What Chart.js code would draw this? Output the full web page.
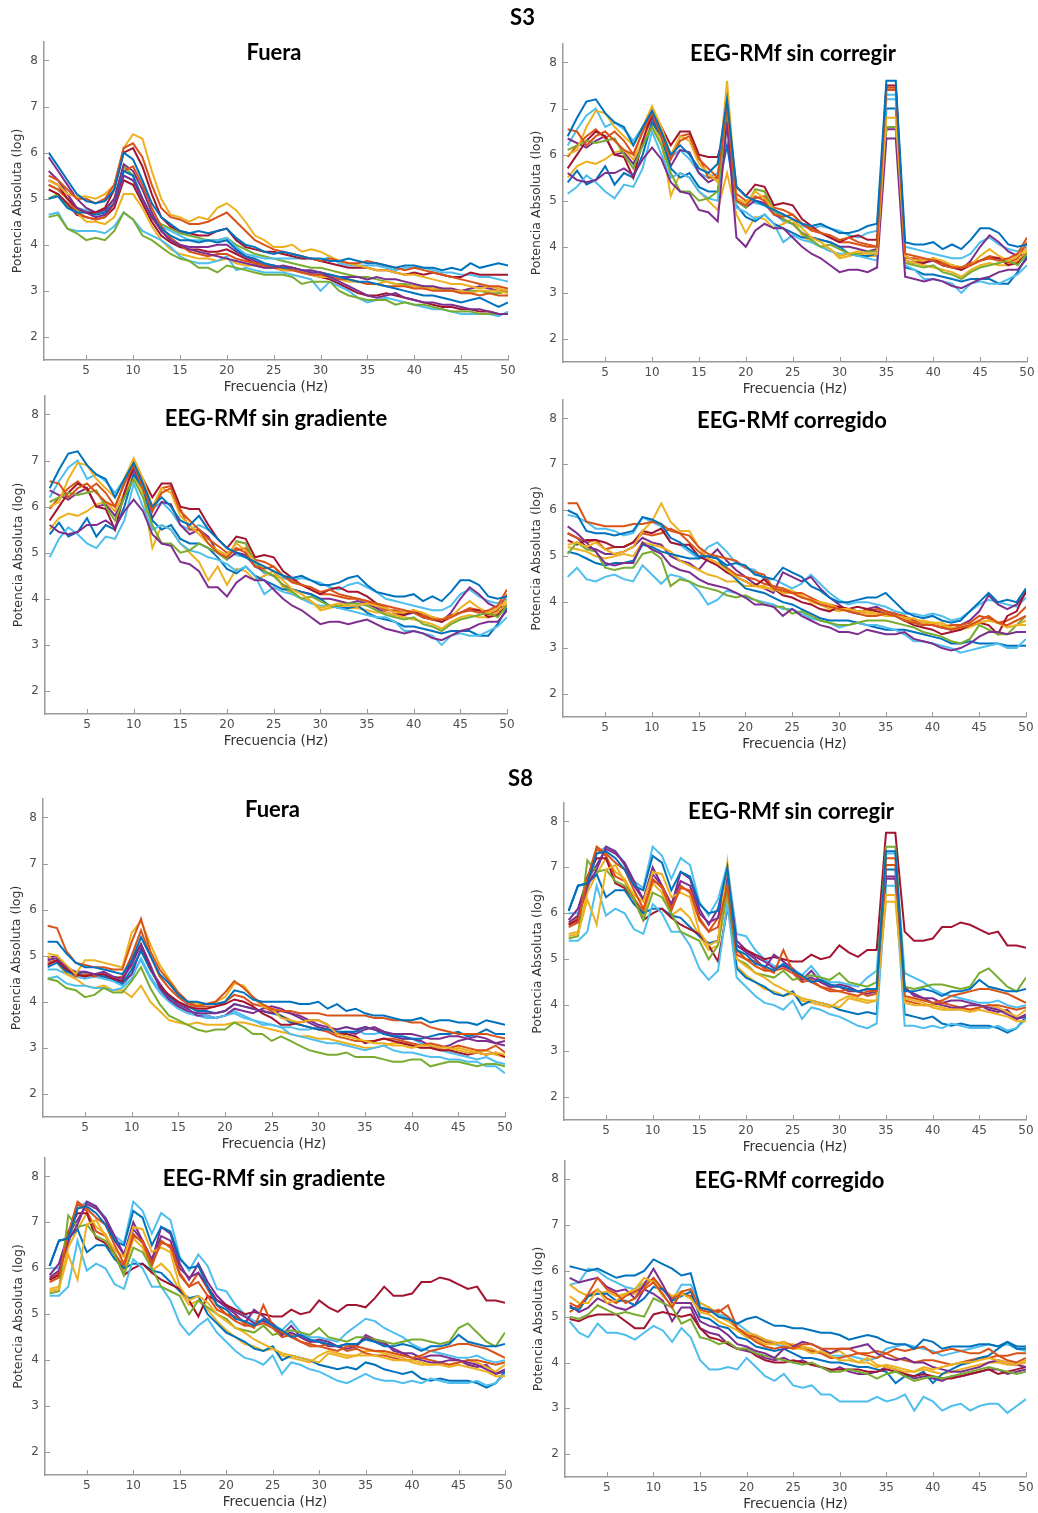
<!DOCTYPE html>
<html><head><meta charset="utf-8">
<script src="https://cdn.jsdelivr.net/npm/chart.js@4.4.1/dist/chart.umd.min.js"></script>
<style>
html,body{margin:0;padding:0;background:#fff;overflow:hidden;width:1038px;height:1513px;}
#page{position:relative;width:1038px;height:1513px;}
canvas{position:absolute;}
.ttl{position:absolute;font-family:Lato,'Open Sans',sans-serif;font-weight:700;font-size:22px;line-height:22px;white-space:nowrap;color:#000;transform:translateX(-50%);z-index:5;}
</style></head><body><div id="page"></div>
<script>
// ---------- data ----------
const FREQS = [1,2,3,4,5,6,7,8,9,10,11,12,13,14,15,16,17,18,19,20,21,22,23,24,25,26,27,28,29,30,31,32,33,34,35,36,37,38,39,40,41,42,43,44,45,46,47,48,49,50];
const X_TICKS = [5,10,15,20,25,30,35,40,45,50];
const Y_TICKS = [2,3,4,5,6,7,8];
const SUBJECTS = ['S3','S8'];
const PANEL_TITLES = ['Fuera','EEG-RMf sin corregir','EEG-RMf sin gradiente','EEG-RMf corregido'];
const X_LABEL = 'Frecuencia (Hz)';
const Y_LABEL = 'Potencia Absoluta (log)';

const S3_FUERA = [
[6.0,5.7,5.4,5.1,4.95,4.9,4.95,5.2,6.0,5.85, 5.4,4.9,4.6,4.45,4.3,4.25,4.3,4.25,4.3,4.35, 4.15,4.0,3.95,3.85,3.8,3.85,3.8,3.75,3.7,3.7, 3.65,3.65,3.7,3.65,3.6,3.6,3.55,3.5,3.55,3.55, 3.5,3.5,3.45,3.5,3.45,3.6,3.5,3.55,3.6,3.55],
[5.5,5.4,5.2,5.0,5.0,4.9,5.0,5.3,6.1,6.2, 5.9,5.3,4.8,4.6,4.55,4.45,4.45,4.5,4.6,4.7, 4.5,4.3,4.1,4.0,3.9,3.85,3.8,3.75,3.7,3.65, 3.7,3.65,3.6,3.6,3.65,3.6,3.55,3.5,3.45,3.5, 3.45,3.4,3.35,3.3,3.25,3.2,3.15,3.1,3.1,3.05],
[5.4,5.3,5.1,5.05,5.05,5.0,5.1,5.3,6.1,6.4, 6.3,5.6,5.0,4.65,4.6,4.5,4.6,4.55,4.8,4.9, 4.75,4.5,4.2,4.1,3.95,3.95,4.0,3.85,3.9,3.85, 3.75,3.65,3.6,3.55,3.5,3.45,3.45,3.4,3.35,3.35, 3.3,3.25,3.2,3.15,3.15,3.1,3.05,3.1,3.05,3.0],
[5.6,5.4,5.1,4.8,4.7,4.6,4.65,4.9,5.5,5.4, 5.0,4.6,4.3,4.1,4.0,3.9,3.85,3.8,3.75,3.7, 3.65,3.6,3.55,3.5,3.5,3.55,3.5,3.45,3.4,3.4, 3.3,3.2,3.1,3.0,2.9,2.85,2.9,2.95,2.85,2.8, 2.75,2.75,2.7,2.7,2.65,2.6,2.6,2.55,2.5,2.5],
[4.6,4.65,4.35,4.25,4.1,4.15,4.1,4.3,4.7,4.55, 4.2,4.1,3.95,3.8,3.7,3.65,3.5,3.5,3.4,3.55, 3.5,3.45,3.4,3.35,3.35,3.35,3.3,3.15,3.2,3.2, 3.2,3.0,2.9,2.85,2.8,2.8,2.8,2.7,2.75,2.7, 2.7,2.65,2.6,2.55,2.55,2.55,2.5,2.5,2.5,2.5],
[4.65,4.7,4.35,4.3,4.3,4.3,4.25,4.4,4.7,4.55, 4.3,4.2,4.1,3.95,3.75,3.65,3.6,3.6,3.65,3.75, 3.45,3.5,3.45,3.4,3.4,3.4,3.35,3.3,3.25,3.0, 3.2,3.1,3.0,2.85,2.75,2.8,2.85,2.8,2.75,2.7, 2.65,2.6,2.6,2.55,2.5,2.5,2.5,2.5,2.45,2.55],
[5.4,5.3,5.0,4.8,4.7,4.7,4.8,5.2,6.0,6.1, 5.7,5.1,4.6,4.4,4.3,4.25,4.2,4.2,4.3,4.35, 4.1,3.95,3.9,3.85,3.85,3.8,3.75,3.7,3.7,3.65, 3.6,3.55,3.5,3.5,3.5,3.45,3.45,3.4,3.35,3.4, 3.35,3.4,3.35,3.3,3.3,3.4,3.35,3.35,3.35,3.35],
[5.0,5.05,4.8,4.7,4.7,4.65,4.7,4.9,5.6,5.5, 5.0,4.6,4.35,4.2,4.1,4.1,4.05,4.1,4.05,4.1, 3.9,3.75,3.7,3.6,3.55,3.5,3.5,3.45,3.4,3.4, 3.35,3.3,3.25,3.2,3.2,3.15,3.1,3.05,3.0,2.95, 2.9,2.9,2.85,2.8,2.75,2.8,2.85,2.75,2.65,2.75],
[5.3,5.2,5.0,4.7,4.6,4.55,4.6,4.9,5.6,5.7, 5.3,4.8,4.4,4.15,4.0,3.85,3.8,3.75,3.8,3.8, 3.7,3.65,3.6,3.55,3.5,3.5,3.45,3.4,3.35,3.35, 3.3,3.25,3.25,3.2,3.15,3.15,3.1,3.1,3.1,3.05, 3.05,3.0,3.0,3.0,2.95,2.95,2.9,2.95,2.9,2.9],
[5.3,5.2,5.0,4.7,4.5,4.5,4.45,4.6,5.1,5.1, 4.8,4.4,4.1,3.9,3.8,3.75,3.7,3.7,3.65,3.7, 3.6,3.55,3.55,3.5,3.5,3.45,3.45,3.4,3.35,3.3, 3.3,3.25,3.2,3.2,3.15,3.15,3.2,3.15,3.1,3.1, 3.05,3.05,3.0,3.0,3.0,2.95,3.0,3.0,3.0,2.95],
[5.9,5.6,5.3,5.0,4.8,4.7,4.75,5.0,5.75,5.6, 5.2,4.7,4.3,4.1,4.0,3.95,3.95,3.95,4.0,4.0, 3.85,3.75,3.65,3.55,3.55,3.5,3.5,3.45,3.45,3.4, 3.35,3.3,3.3,3.3,3.25,3.3,3.25,3.25,3.2,3.15, 3.1,3.1,3.05,3.05,3.0,3.05,3.1,3.05,3.0,3.0],
[5.3,5.2,5.0,4.8,4.75,4.7,4.7,4.9,5.5,5.4, 5.0,4.6,4.4,4.3,4.2,4.1,4.1,4.1,4.1,4.15, 3.95,3.8,3.75,3.7,3.7,3.7,3.7,3.7,3.7,3.65, 3.75,3.6,3.55,3.55,3.55,3.55,3.5,3.45,3.5,3.5, 3.5,3.45,3.4,3.4,3.35,3.35,3.3,3.3,3.25,3.2],
[5.2,5.1,4.9,4.65,4.6,4.55,4.6,4.8,5.4,5.3, 4.9,4.5,4.2,4.05,3.95,3.9,3.9,3.85,3.85,3.9, 3.8,3.7,3.6,3.55,3.5,3.45,3.45,3.4,3.35,3.3, 3.25,3.15,3.05,2.95,2.9,2.9,2.95,2.9,2.85,2.8, 2.75,2.7,2.65,2.65,2.6,2.6,2.55,2.55,2.5,2.5],
[5.0,5.1,4.85,4.75,4.7,4.7,4.75,5.0,5.7,5.5, 5.0,4.6,4.45,4.35,4.25,4.2,4.15,4.1,4.1,4.15, 4.0,3.9,3.8,3.75,3.7,3.65,3.6,3.55,3.5,3.5, 3.45,3.4,3.35,3.3,3.3,3.25,3.2,3.15,3.15,3.1, 3.1,3.05,3.05,3.0,3.0,3.0,3.0,2.95,2.95,3.0]
];

const S3_SINCORR = [
[6.4,6.8,7.15,7.2,6.9,6.7,6.6,6.2,6.6,6.95, 6.5,6.0,6.2,6.0,5.7,5.6,5.8,7.2,5.3,5.1, 5.0,4.9,4.8,4.7,4.6,4.5,4.45,4.5,4.4,4.3, 4.3,4.35,4.45,4.5,7.6,7.6,4.1,4.05,4.05,4.1, 3.95,4.05,3.95,4.15,4.4,4.4,4.3,4.05,4.0,4.05],
[6.55,6.5,6.2,6.4,6.5,6.3,6.1,6.0,6.5,6.9, 6.4,5.9,6.3,6.4,5.9,5.7,5.5,7.0,5.0,4.9, 5.1,5.0,4.7,4.65,4.7,4.5,4.4,4.3,4.25,4.15, 4.2,4.1,4.05,4.0,7.4,7.4,3.85,3.8,3.75,3.7, 3.6,3.55,3.55,3.6,3.7,3.75,3.7,3.75,3.85,4.2],
[6.0,6.1,6.6,6.95,6.9,6.6,6.4,6.2,6.6,7.05, 6.6,6.0,6.4,6.3,5.8,5.6,5.4,7.6,5.05,4.95, 5.2,5.05,4.8,4.7,4.6,4.4,4.2,4.1,3.95,3.8, 3.85,3.9,3.85,3.85,6.8,6.8,3.8,3.7,3.7,3.75, 3.7,3.6,3.55,3.6,3.8,3.95,3.8,3.7,3.8,3.95],
[5.6,5.45,5.4,5.45,5.6,5.6,5.7,5.55,5.9,6.15, 5.9,5.4,5.2,5.15,4.8,4.75,4.55,6.7,4.2,4.0, 4.35,4.5,4.4,4.4,4.2,4.0,3.85,3.75,3.6,3.45, 3.5,3.5,3.45,3.55,6.35,6.35,3.35,3.3,3.25,3.3, 3.25,3.15,3.1,3.2,3.3,3.35,3.45,3.5,3.5,3.75],
[6.1,6.2,6.3,6.25,6.3,6.35,6.0,5.7,6.2,6.6, 6.2,5.6,5.2,5.2,5.0,5.05,5.2,6.9,5.0,4.85, 5.25,5.2,4.8,4.6,4.5,4.3,4.15,4.0,4.05,3.95, 3.85,3.85,3.9,3.9,6.6,6.6,3.65,3.6,3.55,3.6, 3.45,3.4,3.3,3.45,3.55,3.6,3.65,3.7,3.6,3.85],
[5.15,5.3,5.55,5.4,5.2,5.05,5.35,5.3,5.7,6.5, 6.0,5.5,5.6,5.5,5.2,5.05,5.0,7.3,4.85,4.75, 4.6,4.7,4.5,4.1,4.25,4.15,4.1,4.0,3.9,3.85, 3.85,3.8,3.75,3.7,7.2,7.2,3.6,3.5,3.3,3.3, 3.25,3.2,3.0,3.2,3.25,3.2,3.2,3.3,3.4,3.6],
[5.7,6.0,6.3,6.5,6.4,6.0,5.95,5.5,6.3,6.9, 6.6,6.2,6.5,6.5,6.0,5.95,5.95,6.65,5.3,5.1, 5.35,5.3,4.9,4.95,4.9,4.6,4.45,4.3,4.2,4.1, 4.2,4.25,4.15,4.15,7.5,7.5,3.8,3.7,3.65,3.75, 3.6,3.55,3.5,3.6,3.7,3.75,3.75,3.6,3.65,3.85],
[5.4,5.65,5.35,5.45,5.75,5.35,5.6,5.5,6.0,6.7, 6.4,5.7,5.5,5.6,5.3,5.2,5.2,6.2,4.9,4.65, 4.55,4.7,4.5,4.4,4.3,4.2,4.2,4.15,4.1,4.0, 3.85,3.8,3.8,3.85,7.0,7.0,3.55,3.5,3.4,3.4, 3.35,3.3,3.25,3.3,3.3,3.3,3.2,3.2,3.45,3.8],
[5.95,6.2,6.4,6.55,6.35,6.5,6.3,6.0,6.5,6.95, 6.5,5.9,6.4,6.45,5.95,5.5,5.5,6.9,5.15,5.0, 5.05,5.1,4.85,4.8,4.7,4.5,4.35,4.3,4.2,4.1, 4.1,4.05,4.0,4.0,7.45,7.45,3.75,3.75,3.7,3.75, 3.65,3.6,3.55,3.65,3.7,3.8,3.75,3.65,3.75,4.1],
[5.5,5.75,5.85,5.8,5.9,6.05,6.1,5.9,6.3,6.7, 6.3,5.1,5.6,5.5,5.2,5.0,4.8,5.6,4.7,4.3, 4.65,4.6,4.4,4.5,4.6,4.25,4.1,4.0,3.95,3.75, 3.8,3.85,3.8,3.8,6.6,6.6,3.7,3.65,3.6,3.55, 3.5,3.45,3.35,3.5,3.6,3.65,3.6,3.6,3.7,3.9],
[6.35,6.25,6.15,6.3,6.4,6.0,6.05,5.8,6.2,6.8, 6.35,5.75,6.1,6.05,5.6,5.4,5.5,6.7,5.0,4.85, 5.0,4.95,4.7,4.6,4.5,4.3,4.2,4.15,4.1,4.0, 4.0,3.95,3.9,3.95,6.55,6.55,3.7,3.65,3.65,3.7, 3.6,3.6,3.5,3.7,4.0,4.25,4.1,3.9,3.8,3.85],
[6.2,6.55,6.85,7.0,6.6,6.7,6.55,6.3,6.6,6.9, 6.45,5.95,6.1,5.9,5.6,5.5,5.6,7.1,5.3,5.1, 4.95,4.9,4.75,4.55,4.5,4.45,4.4,4.45,4.4,4.35, 4.25,4.2,4.3,4.35,7.3,7.3,4.0,3.95,3.9,3.85, 3.8,3.75,3.75,3.85,4.1,4.2,4.05,3.95,3.9,4.0]
];

const S3_SINGRAD = [
[6.4,6.8,7.15,7.2,6.9,6.7,6.6,6.2,6.6,6.95, 6.5,6.0,6.2,6.0,5.7,5.6,5.8,5.5,5.3,5.1, 5.0,4.9,4.8,4.7,4.6,4.5,4.45,4.5,4.4,4.3, 4.3,4.35,4.45,4.5,4.3,4.15,4.1,4.05,4.05,4.1, 3.95,4.05,3.95,4.15,4.4,4.4,4.3,4.05,4.0,4.05],
[6.55,6.5,6.2,6.4,6.5,6.3,6.1,6.0,6.5,6.9, 6.4,5.9,6.3,6.4,5.9,5.7,5.5,5.2,5.0,4.9, 5.1,5.0,4.7,4.65,4.7,4.5,4.4,4.3,4.25,4.15, 4.2,4.1,4.05,4.0,3.95,3.9,3.85,3.8,3.75,3.7, 3.6,3.55,3.55,3.6,3.7,3.75,3.7,3.75,3.85,4.2],
[6.0,6.1,6.6,6.95,6.9,6.6,6.4,6.2,6.6,7.05, 6.6,6.0,6.4,6.3,5.8,5.6,5.4,5.2,5.05,4.95, 5.2,5.05,4.8,4.7,4.6,4.4,4.2,4.1,3.95,3.8, 3.85,3.9,3.85,3.85,3.9,3.85,3.8,3.7,3.7,3.75, 3.7,3.6,3.55,3.6,3.8,3.95,3.8,3.7,3.8,3.95],
[5.6,5.45,5.4,5.45,5.6,5.6,5.7,5.55,5.9,6.15, 5.9,5.4,5.2,5.15,4.8,4.75,4.6,4.25,4.25,4.05, 4.35,4.5,4.4,4.4,4.2,4.0,3.85,3.75,3.6,3.45, 3.5,3.5,3.45,3.5,3.55,3.45,3.35,3.3,3.25,3.3, 3.25,3.15,3.1,3.2,3.3,3.35,3.45,3.5,3.5,3.75],
[6.1,6.2,6.3,6.25,6.3,6.35,6.0,5.7,6.2,6.6, 6.2,5.6,5.2,5.2,5.0,5.05,5.2,5.1,5.0,4.85, 5.25,5.2,4.8,4.6,4.5,4.3,4.15,4.0,4.05,3.95, 3.85,3.85,3.9,3.9,3.85,3.75,3.65,3.6,3.55,3.6, 3.45,3.4,3.3,3.45,3.55,3.6,3.65,3.7,3.6,3.85],
[4.9,5.3,5.55,5.4,5.2,5.1,5.35,5.3,5.7,6.5, 6.0,5.5,5.6,5.5,5.2,5.05,5.0,4.9,4.85,4.75, 4.6,4.7,4.5,4.1,4.25,4.15,4.1,4.0,3.9,3.85, 3.85,3.8,3.75,3.7,3.65,3.6,3.6,3.5,3.3,3.3, 3.25,3.2,3.0,3.2,3.25,3.2,3.2,3.3,3.4,3.6],
[5.7,6.0,6.3,6.5,6.4,6.0,5.95,5.5,6.3,6.9, 6.6,6.2,6.5,6.5,6.0,5.95,5.95,5.6,5.3,5.1, 5.35,5.3,4.9,4.95,4.9,4.6,4.45,4.3,4.2,4.1, 4.2,4.25,4.15,4.15,4.05,3.9,3.8,3.7,3.65,3.75, 3.6,3.55,3.5,3.6,3.7,3.75,3.75,3.6,3.65,3.85],
[5.4,5.65,5.35,5.45,5.75,5.35,5.6,5.5,6.0,6.7, 6.4,5.7,5.5,5.6,5.3,5.2,5.2,5.1,4.9,4.65, 4.55,4.7,4.5,4.4,4.3,4.2,4.2,4.15,4.1,4.0, 3.85,3.8,3.8,3.85,3.7,3.6,3.55,3.5,3.4,3.4, 3.35,3.3,3.25,3.3,3.3,3.3,3.2,3.2,3.45,3.8],
[5.95,6.2,6.4,6.55,6.35,6.5,6.3,6.0,6.5,6.95, 6.5,5.9,6.4,6.45,5.95,5.5,5.5,5.3,5.15,5.0, 5.05,5.1,4.85,4.8,4.7,4.5,4.35,4.3,4.2,4.1, 4.1,4.05,4.0,4.0,3.95,3.85,3.75,3.75,3.7,3.75, 3.65,3.6,3.55,3.65,3.7,3.8,3.75,3.65,3.75,4.1],
[5.5,5.75,5.85,5.8,5.9,6.05,6.1,5.9,6.3,6.7, 6.3,5.1,5.6,5.5,5.2,5.0,4.8,4.4,4.7,4.3, 4.65,4.6,4.4,4.5,4.6,4.25,4.1,4.0,3.95,3.75, 3.8,3.85,3.8,3.8,3.75,3.7,3.7,3.65,3.6,3.55, 3.5,3.45,3.35,3.5,3.6,3.65,3.6,3.6,3.7,3.9],
[6.35,6.25,6.15,6.3,6.4,6.0,6.05,5.8,6.2,6.8, 6.35,5.75,6.1,6.05,5.6,5.4,5.5,5.35,5.0,4.85, 5.0,4.95,4.7,4.6,4.5,4.3,4.2,4.15,4.1,4.0, 4.0,3.95,3.9,3.95,3.9,3.8,3.7,3.65,3.65,3.7, 3.6,3.6,3.5,3.7,4.0,4.25,4.1,3.9,3.8,3.85],
[6.2,6.55,6.85,7.0,6.6,6.7,6.55,6.3,6.6,6.9, 6.45,5.95,6.1,5.9,5.6,5.5,5.6,5.5,5.3,5.1, 4.95,4.9,4.75,4.55,4.5,4.45,4.4,4.45,4.4,4.35, 4.25,4.2,4.3,4.35,4.25,4.15,4.0,3.95,3.9,3.85, 3.8,3.75,3.75,3.85,4.1,4.2,4.05,3.95,3.9,4.0]
];

const S3_CORR = [
[6.0,5.9,5.55,5.5,5.5,5.45,5.5,5.55,5.85,5.8, 5.7,5.4,5.3,5.15,5.0,5.0,4.95,4.8,4.85,4.8, 4.6,4.55,4.5,4.75,4.65,4.55,4.35,4.25,4.1,4.0, 4.0,4.05,4.1,4.1,4.2,4.0,3.8,3.7,3.65,3.7, 3.6,3.55,3.6,3.8,4.0,4.2,4.0,4.05,4.0,4.3],
[6.15,6.15,5.75,5.7,5.65,5.65,5.65,5.7,5.7,5.75, 5.7,5.55,5.5,5.45,5.2,5.05,5.0,4.95,4.9,4.75, 4.65,4.6,4.3,4.25,4.2,4.1,4.05,3.95,3.9,3.85, 3.8,3.75,3.7,3.7,3.75,3.7,3.6,3.55,3.5,3.5, 3.45,3.4,3.45,3.5,3.6,3.7,3.55,3.5,3.6,3.7],
[5.25,5.3,5.2,5.3,5.15,5.05,5.1,5.2,5.55,5.75, 6.15,5.75,5.55,5.55,5.2,4.95,4.85,4.7,4.55,4.45, 4.35,4.3,4.3,4.2,4.2,4.1,4.05,4.0,3.95,3.85, 3.85,3.8,3.8,3.75,3.75,3.7,3.65,3.65,3.55,3.55, 3.5,3.45,3.45,3.5,3.55,3.6,3.55,3.45,3.5,3.5],
[5.65,5.5,5.3,5.1,4.85,4.8,4.85,4.85,5.3,5.15, 5.05,4.8,4.7,4.65,4.5,4.4,4.35,4.3,4.2,4.1, 3.95,3.95,3.9,3.7,3.85,3.7,3.6,3.5,3.45,3.35, 3.35,3.3,3.4,3.35,3.3,3.3,3.35,3.2,3.15,3.1, 3.0,2.95,3.0,3.1,3.25,3.35,3.35,3.3,3.35,3.35],
[5.05,5.3,5.15,5.1,4.75,4.7,4.75,4.75,5.05,5.1, 4.95,4.35,4.5,4.45,4.35,4.3,4.25,4.15,4.1,4.15, 4.05,3.95,3.9,3.9,3.75,3.8,3.7,3.6,3.55,3.5, 3.5,3.55,3.6,3.6,3.6,3.55,3.5,3.45,3.35,3.3, 3.25,3.15,3.1,3.2,3.5,3.4,3.3,3.3,3.5,3.7],
[4.55,4.75,4.5,4.45,4.55,4.6,4.5,4.45,4.8,4.6, 4.4,4.6,4.55,4.45,4.25,3.95,4.05,4.25,4.2,4.1, 4.05,4.0,3.95,3.85,3.85,3.75,3.65,3.6,3.55,3.45, 3.5,3.55,3.5,3.5,3.45,3.4,3.3,3.15,3.15,3.1, 3.05,3.0,2.9,2.95,3.0,3.05,3.1,3.0,3.0,3.2],
[5.35,5.25,5.35,5.35,5.3,5.2,5.2,5.3,5.55,5.5, 5.6,5.3,5.25,5.25,5.0,4.9,4.8,4.65,4.55,4.45, 4.35,4.5,4.3,4.15,4.1,4.0,3.95,3.85,3.8,3.9, 3.85,3.9,3.85,3.8,3.75,3.7,3.6,3.5,3.45,3.4, 3.3,3.35,3.4,3.5,3.55,3.5,3.3,3.7,3.8,4.25],
[5.1,5.05,4.95,4.85,4.8,4.85,4.85,4.9,5.25,5.2, 5.1,5.05,5.0,4.95,4.95,5.0,4.95,4.7,4.5,4.3, 4.25,4.2,4.1,4.0,3.95,3.85,3.75,3.65,3.6,3.6, 3.6,3.55,3.5,3.45,3.4,3.4,3.4,3.35,3.3,3.25, 3.2,3.1,3.1,3.15,3.1,3.1,3.1,3.05,3.05,3.05],
[5.5,5.4,5.3,5.35,5.15,5.2,5.2,5.3,5.5,5.45, 5.5,5.6,5.5,5.3,5.1,4.95,4.85,4.75,4.6,4.55, 4.5,4.4,4.35,4.3,4.2,4.2,4.1,4.0,3.95,3.9, 3.85,3.8,3.8,3.85,3.8,3.75,3.7,3.6,3.55,3.5, 3.45,3.5,3.5,3.55,3.7,3.65,3.55,3.6,3.7,3.9],
[5.2,5.15,5.1,5.0,4.95,5.0,5.05,5.0,5.3,5.25, 5.2,5.1,4.9,4.8,4.7,4.6,4.55,4.45,4.45,4.35, 4.35,4.35,4.25,4.3,4.25,4.15,4.0,3.95,3.85,3.8, 3.85,3.8,3.75,3.75,3.7,3.7,3.65,3.6,3.6,3.55, 3.55,3.45,3.4,3.45,3.55,3.6,3.55,3.45,3.5,3.6],
[5.5,5.4,5.2,5.15,5.05,5.05,5.1,5.2,5.4,5.3, 5.25,5.0,4.9,4.85,4.7,4.95,5.15,4.9,4.7,4.55, 4.4,4.3,4.2,4.65,4.55,4.45,4.55,4.3,4.1,3.95, 3.8,3.75,3.85,3.9,3.8,3.75,3.6,3.55,3.5,3.5, 3.45,3.4,3.5,3.6,3.8,4.15,3.95,3.85,3.95,4.2],
[5.9,5.85,5.75,5.6,5.6,5.55,5.45,5.5,5.85,5.75, 5.65,5.3,5.25,5.1,4.95,5.2,5.3,5.1,4.85,4.75, 4.7,4.5,4.5,4.4,4.3,4.4,4.6,4.4,4.2,4.05, 3.95,4.0,4.0,3.95,3.9,3.8,3.75,3.75,3.7,3.75, 3.7,3.6,3.65,3.8,3.95,4.05,4.0,3.95,3.9,4.1]
];

const S8_FUERA = [
[5.3,5.3,5.05,4.85,4.75,4.75,4.7,4.65,4.6,4.9, 5.4,5.0,4.6,4.4,4.15,4.0,4.0,3.95,3.95,4.0, 4.25,4.2,4.05,4.0,4.0,4.0,4.0,3.95,3.95,4.0, 3.85,3.95,3.8,3.85,3.75,3.7,3.7,3.65,3.6,3.6, 3.65,3.55,3.6,3.6,3.55,3.55,3.5,3.6,3.55,3.5],
[5.65,5.6,5.1,4.85,4.8,4.75,4.75,4.7,4.7,5.3, 5.8,5.1,4.7,4.45,4.2,4.0,3.9,3.95,4.0,4.2, 4.45,4.3,4.1,3.95,3.85,3.8,3.8,3.75,3.75,3.75, 3.7,3.7,3.7,3.7,3.7,3.65,3.65,3.6,3.6,3.55, 3.55,3.45,3.4,3.35,3.3,3.3,3.3,3.3,3.25,3.2],
[5.05,5.0,4.8,4.6,4.9,4.9,4.85,4.8,4.75,5.5, 5.75,5.25,4.8,4.5,4.2,4.0,3.95,3.95,4.0,4.1, 4.4,4.35,4.1,3.9,3.85,3.65,3.6,3.55,3.6,3.6, 3.5,3.3,3.25,3.2,3.15,3.1,3.1,3.05,3.05,3.0, 3.05,3.05,3.0,3.0,2.95,2.9,2.9,2.85,2.9,2.85],
[4.9,4.95,4.75,4.65,4.65,4.6,4.65,4.55,4.5,4.8, 5.25,4.8,4.3,4.05,3.9,3.8,3.75,3.75,3.75,3.8, 3.95,3.9,3.85,3.8,3.75,3.8,3.75,3.7,3.6,3.5, 3.45,3.4,3.45,3.4,3.45,3.4,3.35,3.3,3.3,3.3, 3.25,3.2,3.2,3.25,3.25,3.2,3.15,3.15,3.1,3.05],
[4.5,4.45,4.3,4.25,4.1,4.15,4.3,4.2,4.2,4.45, 4.75,4.3,3.95,3.7,3.6,3.5,3.4,3.35,3.4,3.4, 3.55,3.45,3.3,3.3,3.15,3.25,3.15,3.05,2.95,2.9, 2.85,2.85,2.9,2.8,2.8,2.8,2.75,2.7,2.7,2.75, 2.75,2.6,2.65,2.7,2.7,2.65,2.6,2.65,2.65,2.6],
[4.5,4.55,4.4,4.35,4.35,4.3,4.3,4.25,4.3,4.5, 4.95,4.55,4.25,4.05,3.9,3.8,3.75,3.7,3.65,3.7, 3.75,3.65,3.6,3.5,3.5,3.45,3.3,3.25,3.2,3.15, 3.1,3.1,3.05,3.0,2.95,3.0,3.05,2.95,2.9,2.9, 2.85,2.8,2.8,2.75,2.75,2.7,2.7,2.6,2.6,2.45],
[4.8,4.9,4.7,4.6,4.55,4.6,4.6,4.5,4.45,4.9, 5.25,4.75,4.35,4.15,4.0,3.9,3.85,3.85,3.9,3.95, 4.05,4.0,3.9,3.75,3.65,3.5,3.5,3.55,3.6,3.6, 3.5,3.3,3.3,3.25,3.1,3.15,3.2,3.15,3.1,3.05, 3.0,3.0,2.95,2.95,2.9,2.85,2.9,2.85,2.9,2.8],
[4.75,4.85,4.65,4.6,4.65,4.6,4.55,4.5,4.4,4.7, 5.1,4.7,4.35,4.1,4.0,3.9,3.8,3.8,3.75,3.8, 3.95,3.9,3.85,3.8,3.75,3.7,3.55,3.5,3.45,3.4, 3.4,3.35,3.35,3.35,3.45,3.4,3.3,3.25,3.25,3.2, 3.2,3.25,3.3,3.3,3.35,3.25,3.3,3.4,3.3,3.3],
[4.85,4.9,4.7,4.55,4.6,4.55,4.6,4.5,4.55,5.0, 5.55,5.0,4.55,4.3,4.1,3.95,3.9,3.9,3.9,4.0, 4.15,4.1,3.95,3.9,3.8,3.7,3.6,3.5,3.45,3.4, 3.35,3.25,3.2,3.15,3.15,3.15,3.2,3.2,3.15,3.1, 3.05,3.1,3.05,3.0,3.05,3.0,2.95,2.95,3.05,2.9],
[5.0,4.85,4.6,4.5,4.35,4.3,4.35,4.25,4.25,4.1, 4.35,4.0,3.8,3.6,3.55,3.5,3.55,3.5,3.5,3.5, 3.55,3.55,3.5,3.45,3.4,3.35,3.3,3.25,3.25,3.2, 3.2,3.15,3.1,3.05,3.0,3.0,3.05,3.1,3.1,3.05, 3.0,3.0,2.95,2.95,3.0,2.95,2.9,2.95,2.85,2.8],
[4.95,5.0,4.75,4.6,4.55,4.6,4.55,4.5,4.4,4.6, 5.15,4.7,4.4,4.1,3.95,3.85,3.7,3.7,3.65,3.7, 3.85,3.8,3.75,3.85,3.9,3.85,3.75,3.65,3.55,3.45, 3.4,3.3,3.35,3.3,3.4,3.45,3.35,3.25,3.2,3.2, 3.15,3.05,3.0,3.05,3.15,3.2,3.25,3.2,3.1,3.15],
[4.7,4.7,4.6,4.55,4.5,4.55,4.5,4.45,4.35,4.6, 4.9,4.5,4.2,4.0,3.85,3.75,3.7,3.65,3.65,3.7, 3.8,3.7,3.6,3.55,3.5,3.45,3.45,3.4,3.4,3.45, 3.4,3.4,3.45,3.4,3.3,3.3,3.35,3.3,3.2,3.2, 3.1,3.05,2.95,2.9,2.85,2.8,2.75,2.8,2.7,2.65]
];

const S8_SINCORR = [
[6.05,6.6,6.65,7.3,7.35,7.2,6.95,6.6,6.5,7.25, 7.1,6.5,6.9,6.8,6.2,6.0,6.05,7.0,5.2,5.1, 4.9,4.85,4.75,4.9,4.75,4.65,4.5,4.55,4.45,4.4, 4.35,4.3,4.35,4.35,7.35,7.35,4.3,4.3,4.35,4.3, 4.2,4.3,4.3,4.35,4.55,4.4,4.35,4.3,4.3,4.35],
[5.7,5.8,6.75,7.45,7.3,7.1,6.95,6.5,6.1,6.7, 6.6,6.1,6.55,6.5,5.9,5.6,5.7,6.6,5.1,5.0, 4.95,4.8,4.7,5.2,4.75,4.6,4.5,4.4,4.35,4.3, 4.25,4.2,4.3,4.3,7.05,7.05,4.2,4.15,4.1,4.05, 4.1,4.2,4.25,4.3,4.35,4.35,4.3,4.25,4.15,4.05],
[5.5,5.55,6.3,5.75,6.95,7.05,6.7,6.4,6.25,6.9, 6.85,6.35,6.45,6.35,5.6,5.3,5.4,7.1,5.0,4.85, 4.7,4.6,4.45,4.35,4.25,4.15,4.1,4.05,4.0,3.95, 4.15,4.1,4.05,4.1,6.4,6.4,4.05,4.0,4.0,4.0, 3.95,3.9,3.9,3.85,3.9,3.85,3.8,3.75,3.65,3.65],
[5.8,5.95,6.6,6.95,7.45,7.35,7.05,6.6,6.3,6.85, 6.6,6.2,6.7,6.6,6.0,5.8,5.9,6.8,5.3,5.15, 5.0,4.8,5.1,4.95,4.8,4.55,4.6,4.5,4.4,4.45, 4.4,4.3,4.25,4.3,6.8,6.8,4.35,4.25,4.15,4.05, 4.0,3.95,3.95,4.0,4.0,3.95,3.9,3.8,3.7,3.8],
[5.45,5.5,7.15,6.9,6.95,6.7,6.6,6.3,5.85,6.45, 6.35,6.0,5.6,5.5,5.4,5.0,5.3,6.5,5.0,4.9, 4.7,4.65,4.6,4.75,4.55,4.6,4.65,4.6,4.55,4.7, 4.5,4.45,4.4,4.5,7.45,7.45,4.4,4.35,4.4,4.45, 4.45,4.4,4.35,4.4,4.7,4.8,4.6,4.4,4.3,4.6],
[5.4,5.4,5.6,6.6,5.95,6.1,6.0,5.65,5.55,6.2, 6.0,5.6,5.6,5.3,4.8,4.55,4.75,6.2,4.6,4.4, 4.2,4.05,4.0,3.9,4.1,3.7,3.95,3.9,3.8,3.75, 3.65,3.55,3.5,3.6,6.6,6.6,3.55,3.55,3.5,3.55, 3.5,3.6,3.55,3.5,3.5,3.5,3.55,3.45,3.5,3.7],
[5.75,5.85,6.8,7.2,7.2,6.65,6.55,6.3,5.85,6.0, 6.1,5.9,5.75,5.65,5.55,5.3,4.95,6.1,5.3,5.2, 5.1,5.0,5.05,5.0,4.95,4.95,5.1,5.0,5.05,5.3, 5.15,5.05,5.2,5.2,7.75,7.75,5.6,5.4,5.4,5.45, 5.7,5.7,5.8,5.75,5.65,5.55,5.6,5.3,5.3,5.25],
[6.05,6.6,6.65,6.85,6.35,6.5,6.5,6.2,6.0,6.1, 6.1,5.95,5.9,5.7,5.5,5.35,5.4,6.9,4.8,4.6, 4.5,4.4,4.25,4.2,4.3,4.0,4.1,4.05,4.0,3.9, 3.85,3.8,3.85,3.8,6.95,6.95,3.8,3.75,3.7,3.75, 3.6,3.55,3.6,3.55,3.55,3.55,3.5,3.4,3.5,3.75],
[5.75,5.9,6.55,7.4,7.25,6.8,6.7,6.3,6.05,6.75, 6.55,6.05,6.6,6.45,5.85,5.6,5.9,6.7,5.2,5.0, 4.85,4.75,4.75,4.8,4.7,4.5,4.55,4.4,4.3,4.3, 4.35,4.3,4.2,4.25,7.2,7.2,4.1,4.05,4.0,4.0, 4.05,4.0,3.95,3.9,3.95,4.0,4.0,3.95,3.9,3.95],
[5.55,5.6,6.45,6.85,7.2,6.9,6.75,6.35,5.95,6.65, 6.45,5.95,6.1,5.9,5.5,5.2,5.3,6.4,4.85,4.65, 4.5,4.35,4.3,4.2,4.25,4.1,4.05,4.0,3.95,4.1, 4.2,4.15,4.1,4.1,6.25,6.25,4.15,4.1,4.05,3.95, 3.9,3.9,3.95,3.9,3.95,4.0,3.95,3.85,3.75,3.9],
[5.85,6.1,6.75,7.05,7.4,7.3,7.1,6.7,6.3,7.0, 6.6,6.15,6.9,6.75,6.1,5.75,6.1,6.9,5.4,5.2, 5.05,4.95,4.8,4.85,4.75,4.55,4.75,4.5,4.4,4.4, 4.3,4.3,4.35,4.3,6.75,6.75,4.4,4.2,4.15,4.15, 4.05,4.1,4.1,4.05,4.0,3.9,3.85,3.9,3.7,3.75],
[6.0,6.0,6.5,7.3,7.45,7.35,7.1,6.7,6.55,7.45, 7.25,6.75,7.2,7.05,6.25,5.95,6.3,7.05,5.55,5.5, 5.2,5.0,4.85,4.85,4.8,4.65,4.85,4.6,4.5,4.5, 4.45,4.4,4.6,4.75,7.3,7.3,4.7,4.6,4.5,4.35, 4.25,4.2,4.15,4.1,4.05,4.05,4.1,4.0,3.95,4.0]
];

const S8_SINGRAD = [
[6.05,6.6,6.65,7.3,7.35,7.2,6.95,6.6,6.5,7.25, 7.1,6.5,6.9,6.8,6.2,6.0,6.05,5.6,5.2,5.1, 4.9,4.85,4.75,4.9,4.75,4.65,4.5,4.55,4.45,4.4, 4.35,4.3,4.35,4.35,4.45,4.4,4.3,4.3,4.35,4.3, 4.2,4.3,4.3,4.35,4.55,4.4,4.35,4.3,4.3,4.35],
[5.7,5.8,6.75,7.45,7.3,7.1,6.95,6.5,6.1,6.7, 6.6,6.1,6.55,6.5,5.9,5.6,5.7,5.4,5.1,5.0, 4.95,4.8,4.7,5.2,4.75,4.6,4.5,4.4,4.35,4.3, 4.25,4.2,4.3,4.3,4.25,4.2,4.2,4.15,4.1,4.05, 4.1,4.2,4.25,4.3,4.35,4.35,4.3,4.25,4.15,4.05],
[5.5,5.55,6.3,5.75,6.95,7.05,6.7,6.4,6.25,6.9, 6.85,6.35,6.45,6.35,5.6,5.3,5.4,5.25,5.0,4.85, 4.7,4.6,4.45,4.35,4.25,4.15,4.1,4.05,4.0,3.95, 4.15,4.1,4.05,4.1,4.1,4.1,4.05,4.0,4.0,4.0, 3.95,3.9,3.9,3.85,3.9,3.85,3.8,3.75,3.65,3.65],
[5.8,5.95,6.6,6.95,7.45,7.35,7.05,6.6,6.3,6.85, 6.6,6.2,6.7,6.6,6.0,5.8,5.9,5.6,5.3,5.15, 5.0,4.8,5.1,4.95,4.8,4.55,4.6,4.5,4.4,4.45, 4.4,4.3,4.25,4.3,4.5,4.4,4.35,4.25,4.15,4.05, 4.0,3.95,3.95,4.0,4.0,3.95,3.9,3.8,3.7,3.8],
[5.45,5.5,7.15,6.9,6.95,6.7,6.6,6.3,5.85,6.45, 6.35,6.0,5.6,5.5,5.4,5.0,5.3,5.15,5.0,4.9, 4.7,4.65,4.6,4.75,4.55,4.6,4.65,4.6,4.55,4.7, 4.5,4.45,4.4,4.5,4.5,4.45,4.4,4.35,4.4,4.45, 4.45,4.4,4.35,4.4,4.7,4.8,4.6,4.4,4.3,4.6],
[5.4,5.4,5.6,6.6,5.95,6.1,6.0,5.65,5.55,6.2, 6.0,5.6,5.6,5.3,4.8,4.55,4.75,4.9,4.6,4.4, 4.2,4.05,4.0,3.9,4.1,3.7,3.95,3.9,3.8,3.75, 3.65,3.55,3.5,3.6,3.7,3.6,3.55,3.55,3.5,3.55, 3.5,3.6,3.55,3.5,3.5,3.5,3.55,3.45,3.5,3.7],
[5.75,5.85,6.8,7.2,7.2,6.65,6.55,6.3,5.85,6.0, 6.1,5.9,5.75,5.65,5.55,5.3,4.95,5.4,5.3,5.2, 5.1,5.0,5.05,5.0,4.95,4.95,5.1,5.0,5.05,5.3, 5.15,5.05,5.2,5.2,5.15,5.35,5.6,5.4,5.4,5.45, 5.7,5.7,5.8,5.75,5.65,5.55,5.6,5.3,5.3,5.25],
[6.05,6.6,6.65,6.85,6.35,6.5,6.5,6.2,6.0,6.1, 6.1,5.95,5.9,5.7,5.5,5.35,5.4,5.0,4.8,4.6, 4.5,4.4,4.25,4.2,4.3,4.0,4.1,4.05,4.0,3.9, 3.85,3.8,3.85,3.8,3.95,3.9,3.8,3.75,3.7,3.75, 3.6,3.55,3.6,3.55,3.55,3.55,3.5,3.4,3.5,3.75],
[5.75,5.9,6.55,7.4,7.25,6.8,6.7,6.3,6.05,6.75, 6.55,6.05,6.6,6.45,5.85,5.6,5.9,5.55,5.2,5.0, 4.85,4.75,4.75,4.8,4.7,4.5,4.55,4.4,4.3,4.3, 4.35,4.3,4.2,4.25,4.15,4.1,4.1,4.05,4.0,4.0, 4.05,4.0,3.95,3.9,3.95,4.0,4.0,3.95,3.9,3.95],
[5.55,5.6,6.45,6.85,7.2,6.9,6.75,6.35,5.95,6.65, 6.45,5.95,6.1,5.9,5.5,5.2,5.3,5.1,4.85,4.65, 4.5,4.35,4.3,4.2,4.25,4.1,4.05,4.0,3.95,4.1, 4.2,4.15,4.1,4.1,4.2,4.2,4.15,4.1,4.05,3.95, 3.9,3.9,3.95,3.9,3.95,4.0,3.95,3.85,3.75,3.9],
[5.85,6.1,6.75,7.05,7.4,7.3,7.1,6.7,6.3,7.0, 6.6,6.15,6.9,6.75,6.1,5.75,6.1,5.7,5.4,5.2, 5.05,4.95,4.8,4.85,4.75,4.55,4.75,4.5,4.4,4.4, 4.3,4.3,4.35,4.3,4.55,4.45,4.4,4.2,4.15,4.15, 4.05,4.1,4.1,4.05,4.0,3.9,3.85,3.9,3.7,3.75],
[6.0,6.0,6.5,7.3,7.45,7.35,7.1,6.7,6.55,7.45, 7.25,6.75,7.2,7.05,6.25,5.95,6.3,6.05,5.55,5.5, 5.2,5.0,4.85,4.85,4.8,4.65,4.85,4.6,4.5,4.5, 4.45,4.4,4.6,4.75,4.9,4.85,4.7,4.6,4.5,4.35, 4.25,4.2,4.15,4.1,4.05,4.05,4.1,4.0,3.95,4.0]
];

const S8_CORR = [
[6.1,6.05,6.0,6.05,5.95,5.85,5.9,5.9,6.0,6.25, 6.15,6.05,5.9,5.95,5.2,5.15,5.0,4.95,4.85,4.95, 5.0,4.9,4.8,4.8,4.75,4.75,4.7,4.65,4.65,4.6, 4.5,4.55,4.6,4.55,4.45,4.4,4.4,4.3,4.5,4.45, 4.3,4.35,4.35,4.35,4.4,4.4,4.35,4.45,4.35,4.35],
[5.3,5.2,5.5,5.85,5.6,5.5,5.3,5.4,5.6,5.75, 5.5,5.2,5.55,5.6,5.2,5.15,5.1,5.25,4.75,4.6, 4.45,4.35,4.3,4.35,4.3,4.4,4.4,4.3,4.3,4.3, 4.3,4.2,4.15,4.1,4.2,4.3,4.25,4.3,4.35,4.2, 4.25,4.3,4.25,4.2,4.2,4.3,4.15,4.15,4.2,4.2],
[5.45,5.3,5.3,5.6,5.3,5.35,5.5,5.6,5.85,5.75, 5.45,5.25,5.5,5.4,5.1,5.05,4.9,4.8,4.7,4.55, 4.5,4.4,4.4,4.45,4.3,4.3,4.2,4.25,4.15,4.05, 4.05,4.0,4.1,3.95,3.9,3.85,3.8,3.8,3.9,3.85, 3.9,3.95,4.0,4.0,4.05,4.1,4.05,4.0,3.95,4.05],
[5.85,5.75,5.8,5.85,5.65,5.55,5.6,5.4,5.7,6.05, 5.7,5.3,5.3,5.3,4.9,4.8,4.75,4.6,4.4,4.35, 4.25,4.2,4.1,4.3,4.35,4.45,4.4,4.3,4.2,4.3, 4.3,4.35,4.4,4.2,4.1,4.05,4.1,4.0,4.0,3.9, 3.85,3.8,3.8,3.85,3.9,4.0,4.05,4.0,3.95,3.9],
[5.0,4.95,5.05,5.25,5.15,5.05,5.1,5.05,5.0,5.4, 5.3,5.2,4.85,4.95,4.55,4.5,4.4,4.45,4.3,4.3, 4.2,4.15,4.1,4.05,4.0,3.95,4.0,3.9,3.8,3.8, 3.85,3.8,3.75,3.65,3.75,3.8,3.7,3.6,3.65,3.7, 3.65,3.7,3.75,3.8,3.85,3.9,3.85,3.8,3.75,3.8],
[4.9,4.65,4.55,4.85,4.65,4.65,4.6,4.5,4.65,4.8, 4.7,4.45,4.75,4.55,4.05,3.85,3.85,3.9,3.85,4.1, 3.9,3.7,3.6,3.75,3.5,3.45,3.5,3.3,3.3,3.15, 3.15,3.15,3.15,3.25,3.15,3.2,3.3,2.95,3.25,3.15, 2.95,3.05,3.1,2.95,3.05,3.1,3.1,2.9,3.05,3.2],
[4.95,4.9,5.0,5.05,5.05,5.05,4.9,4.75,4.75,5.05, 5.1,5.05,5.0,5.05,4.75,4.55,4.5,4.4,4.3,4.3, 4.15,4.05,4.0,4.0,4.05,4.0,3.95,3.9,3.85,3.85, 3.85,3.85,3.8,3.8,3.85,3.8,3.75,3.7,3.75,3.7, 3.65,3.65,3.7,3.75,3.8,3.85,3.75,3.8,3.85,3.9],
[5.2,5.15,5.45,5.5,5.5,5.35,5.35,5.25,5.4,5.65, 5.6,5.35,5.45,5.55,5.0,4.95,4.8,4.75,4.55,4.5, 4.35,4.3,4.25,4.3,4.2,4.1,4.1,4.05,4.0,4.0, 3.95,3.9,3.9,3.85,3.8,3.55,3.7,3.7,3.8,3.55, 3.75,3.85,3.95,4.0,4.1,4.15,4.3,4.45,4.3,4.3],
[5.1,5.25,5.45,5.6,5.4,5.3,5.45,5.55,5.65,5.85, 5.6,5.4,5.5,5.45,5.15,5.1,5.15,5.0,4.75,4.6, 4.55,4.45,4.4,4.45,4.35,4.3,4.25,4.2,4.1,4.1, 4.15,4.2,4.2,4.25,4.2,4.1,4.05,4.0,4.05,4.05, 4.0,3.95,4.0,4.05,4.1,4.1,4.15,4.05,4.0,4.1],
[5.7,5.55,5.45,5.5,5.55,5.45,5.5,5.5,5.75,5.8, 5.6,5.45,5.55,5.4,5.3,5.2,5.0,4.9,4.75,4.65, 4.6,4.5,4.45,4.4,4.4,4.35,4.3,4.2,4.2,4.25, 4.1,4.0,4.0,3.9,3.95,3.9,3.85,3.8,3.85,3.8, 3.75,3.8,3.85,3.9,3.95,4.0,4.0,3.95,3.95,4.0],
[5.25,5.1,5.2,5.4,5.3,5.2,5.15,5.25,5.6,5.5, 5.35,4.9,5.2,5.2,4.75,4.65,4.6,4.4,4.3,4.25, 4.2,4.1,4.05,4.1,4.0,4.05,3.95,3.9,3.8,3.9, 3.8,3.75,3.75,3.8,3.9,3.85,3.75,3.65,3.7,3.65, 3.6,3.7,3.7,3.75,3.8,3.85,3.85,3.75,3.8,3.85],
[5.7,5.75,6.05,6.0,5.85,5.75,5.65,5.6,5.75,5.8, 5.6,5.35,5.7,5.7,5.3,5.2,5.05,5.0,4.85,4.7, 4.55,4.5,4.4,4.35,4.35,4.3,4.25,4.2,4.15,4.15, 4.15,4.1,4.05,4.1,4.3,4.35,4.4,4.35,4.3,4.25, 4.15,4.2,4.25,4.3,4.35,4.4,4.35,4.4,4.3,4.25]
];

// ---------- style / layout ----------
const PALETTE = ['#0072BD','#D95319','#EDB120','#7E2F8E','#77AC30','#4DBEEE','#A2142F','#0072BD','#D95319','#EDB120','#7E2F8E','#4DBEEE','#A2142F','#77AC30'];
const AXIS_C = '#9a9a9a', TICK_C = '#4d4d4d', LABEL_C = '#333333';
const YW = 34, XH = 36, PT = 16, PR = 16;
const PANELS = [
  {data:S3_FUERA,   t:0, L:44,  T:42,   R:508,  B:360,  tx:274,   tb:60.7},
  {data:S3_SINCORR, t:1, L:563, T:44,   R:1027, B:362,  tx:793,   tb:61.7},
  {data:S3_SINGRAD, t:2, L:45,  T:396,  R:507,  B:714,  tx:276,   tb:426.7},
  {data:S3_CORR,    t:3, L:563, T:400,  R:1026, B:717,  tx:792,   tb:428.3},
  {data:S8_FUERA,   t:0, L:43,  T:799,  R:505,  B:1117, tx:272.5, tb:817.3},
  {data:S8_SINCORR, t:1, L:564, T:803,  R:1026, B:1120, tx:791,   tb:819.3},
  {data:S8_SINGRAD, t:2, L:45,  T:1158, R:505,  B:1475, tx:274,   tb:1186.7},
  {data:S8_CORR,    t:3, L:565, T:1161, R:1026, B:1477, tx:789.5, tb:1188.3}
];
const SUBJ_POS = [{x:522.5, b:25},{x:520.5, b:786.7}];
const BASE_OFF = 19.5;

const page = document.getElementById('page');
function addTitle(text, cx, baseline){
  const d = document.createElement('div');
  d.className = 'ttl';
  d.textContent = text;
  d.style.left = cx + 'px';
  d.style.top = (baseline - BASE_OFF) + 'px';
  page.appendChild(d);
}

const innerTicks = {
  id: 'innerTicks',
  afterDraw(chart){
    const {ctx, chartArea:a, scales:{x, y}} = chart;
    ctx.save();
    ctx.strokeStyle = AXIS_C; ctx.lineWidth = 1;
    ctx.beginPath();
    X_TICKS.forEach(v => { const p = Math.round(x.getPixelForValue(v)) + 0.5; ctx.moveTo(p, a.bottom); ctx.lineTo(p, a.bottom - 5); });
    Y_TICKS.forEach(v => { const p = Math.round(y.getPixelForValue(v)) + 0.5; ctx.moveTo(a.left, p); ctx.lineTo(a.left + 5, p); });
    ctx.stroke();
    ctx.restore();
  }
};

PANELS.forEach(p => {
  const c = document.createElement('canvas');
  const w = p.R - p.L + YW + PR, h = p.B - p.T + PT + XH;
  c.width = w; c.height = h;
  c.style.left = (p.L - YW) + 'px'; c.style.top = (p.T - PT) + 'px';
  c.style.width = w + 'px'; c.style.height = h + 'px';
  page.appendChild(c);
  new Chart(c, {
    type: 'line',
    data: {
      datasets: p.data.map((row, i) => ({
        data: row.map((v, j) => ({x: FREQS[j], y: v})),
        borderColor: PALETTE[i % PALETTE.length],
        borderWidth: 2,
        pointRadius: 0,
        tension: 0,
        fill: false
      }))
    },
    options: {
      responsive: false, animation: false, events: [],
      devicePixelRatio: 1,
      layout: {padding: {left: 0, top: PT, right: PR, bottom: 0}},
      plugins: {legend: {display: false}, tooltip: {enabled: false}, title: {display: false}},
      scales: {
        x: {
          type: 'linear', min: 0.5, max: 50,
          afterBuildTicks: s => { s.ticks = X_TICKS.map(v => ({value: v})); },
          afterFit: s => { s.height = XH; },
          grid: {drawOnChartArea: false, drawTicks: false},
          border: {display: true, color: AXIS_C, width: 1.5},
          ticks: {color: TICK_C, font: {family: 'DejaVu Sans', size: 12}, padding: 4, maxRotation: 0, autoSkip: false},
          title: {display: true, text: X_LABEL, color: LABEL_C, font: {family: 'DejaVu Sans', size: 13.5}, padding: 0}
        },
        y: {
          type: 'linear', min: 1.5, max: 8.4,
          afterBuildTicks: s => { s.ticks = Y_TICKS.map(v => ({value: v})); },
          afterFit: s => { s.width = YW; },
          grid: {drawOnChartArea: false, drawTicks: false},
          border: {display: true, color: AXIS_C, width: 1.5},
          ticks: {color: TICK_C, font: {family: 'DejaVu Sans', size: 12}, padding: 6},
          title: {display: true, text: Y_LABEL, color: LABEL_C, font: {family: 'DejaVu Sans', size: 12.5}, padding: 0}
        }
      }
    },
    plugins: [innerTicks]
  });
  addTitle(PANEL_TITLES[p.t], p.tx, p.tb);
});
SUBJECTS.forEach((s, i) => addTitle(s, SUBJ_POS[i].x, SUBJ_POS[i].b));
</script>
</body></html>
